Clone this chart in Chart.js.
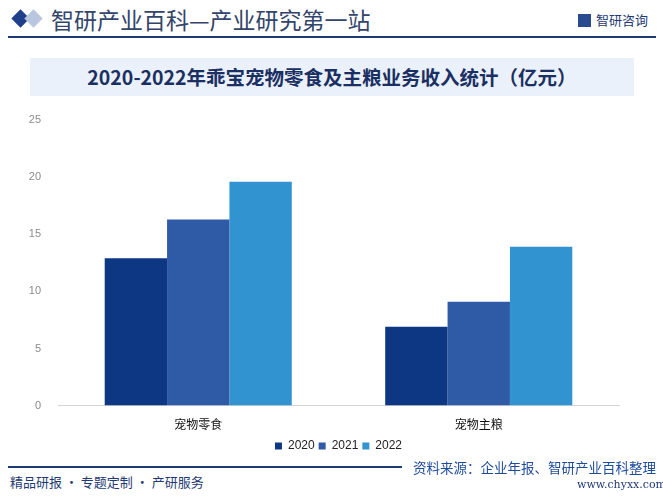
<!DOCTYPE html>
<html>
<head>
<meta charset="utf-8">
<script src="https://cdn.jsdelivr.net/npm/chart.js@4"></script>
<style>
    body { margin: 0; width: 663px; height: 496px; position: relative; background: #fff; overflow: hidden;
           font-family: "Noto Sans CJK SC", "Noto Sans", sans-serif; }
    .abs { position: absolute; white-space: nowrap; }
    .dia { width: 13px; height: 13px; transform: rotate(45deg); }
    #head { left: 51px; top: 2px; font-size: 23px; color: #33456b; }
    #topline { left: 8px; top: 36px; width: 648px; height: 2px; background: #1f3a73; }
    #logo { left: 578px; top: 10px; font-size: 13px; color: #1f3a73; }
    #titlebox { left: 30px; top: 58px; width: 604px; height: 38px; background: #eaf1fa;
                text-align: center; line-height: 38px; font-size: 19.5px; font-weight: bold; color: #1b2f63; }
    #chartbox { left: 0; top: 0; width: 663px; height: 466px; }
    #footline { left: 8px; top: 466px; width: 394px; height: 2px; background: #1f3a73; }
    #foot1 { left: 10px; top: 472px; font-size: 13px; color: #1f3a73; }
    #src { left: 413px; top: 457px; font-size: 13.5px; color: #1f4c9a; }
    #web { left: 577px; top: 478px; font-size: 11px; color: #1f3a73; font-family: "DejaVu Serif", serif; }
</style>
</head>
<body>
<div class="abs dia" style="left:14px;top:12px;background:#1f3f8a;"></div>
<div class="abs dia" style="left:27px;top:12px;background:#b9c6e0;"></div>
<div id="head" class="abs">智研产业百科—产业研究第一站</div>
<div id="logo" class="abs"><span style="display:inline-block;width:13px;height:13px;background:#2a4a8f;vertical-align:-2px;margin-right:5px;"></span>智研咨询</div>
<div id="topline" class="abs"></div>
<div id="titlebox" class="abs">2020-2022年乖宝宠物零食及主粮业务收入统计（亿元）</div>
<div id="chartbox" class="abs"><canvas id="plot" width="663" height="466"></canvas></div>
<div id="footline" class="abs"></div>
<div id="foot1" class="abs">精品研报 · 专题定制 · 产研服务</div>
<div id="src" class="abs">资料来源：企业年报、智研产业百科整理</div>
<div id="web" class="abs">www.chyxx.com</div>

<script>
const categories = ["宠物零食", "宠物主粮"];
const years = ["2020", "2021", "2022"];
const values2020 = [12.9, 6.9];
const values2021 = [16.3, 9.1];
const values2022 = [19.6, 13.9];
const yTicks = [0, 5, 10, 15, 20, 25];

const colors = ['#0e3783', '#2f5aa6', '#3194d0'];

// centre the legend under the plot area rather than the whole canvas
const legendShift = {
    id: 'legendShift',
    afterLayout(chart) {
        const lg = chart.legend;
        const dx = (chart.chartArea.left + chart.chartArea.right) / 2 - (lg.left + lg.right) / 2;
        lg.left += dx;
        lg.right += dx;
    }
};

new Chart("plot", {
    type: 'bar',
    data: {
        labels: categories,
        datasets: [
            { label: years[0], data: values2020, backgroundColor: colors[0] },
            { label: years[1], data: values2021, backgroundColor: colors[1] },
            { label: years[2], data: values2022, backgroundColor: colors[2] }
        ]
    },
    plugins: [legendShift],
    options: {
        responsive: false,
        animation: false,
        layout: { padding: { top: 120, left: 0, right: 44, bottom: 4 } },
        datasets: { bar: { categoryPercentage: 0.667, barPercentage: 1 } },
        scales: {
            x: {
                grid: { display: false },
                border: { color: '#d4d4d4', width: 1 },
                ticks: { color: '#111', font: { size: 12, family: 'Noto Sans CJK SC' }, padding: 4 }
            },
            y: {
                min: 0,
                max: 25,
                afterBuildTicks: s => { s.ticks = yTicks.map(v => ({ value: v })); },
                afterFit: s => { s.width = 58; },
                grid: { display: false },
                border: { display: false },
                ticks: { color: '#8a8a8a', font: { size: 11, family: 'Liberation Sans' }, padding: 9 }
            }
        },
        plugins: {
            legend: {
                position: 'bottom',
                labels: { boxWidth: 7, boxHeight: 7, padding: 4, color: '#222',
                          font: { size: 12, family: 'Liberation Sans' } }
            },
            tooltip: { enabled: false }
        }
    }
});
</script>
</body>
</html>
